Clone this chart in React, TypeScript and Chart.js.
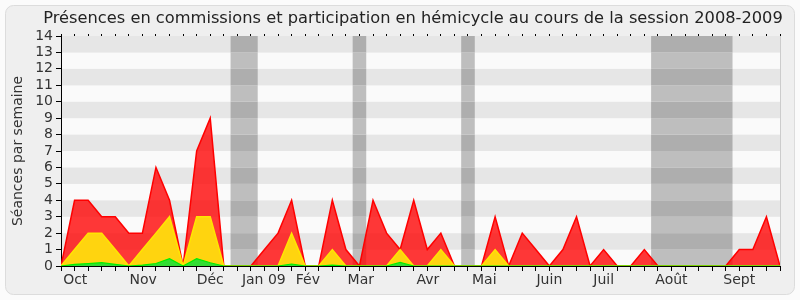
import { useEffect, useRef } from "react";
import { Chart, registerables } from "chart.js";

Chart.register(...registerables);

// Weekly index (semaine 0 = fin septembre 2008)
const weekIndex = Array.from({ length: 54 }, (_, i) => i);

// Séances par semaine (rouge) : présences totales
const seancesTotal = [
  0, 4, 4, 3, 3, 2, 2, 6, 4, 0, 7, 9, 0, 0, 0, 1, 2, 4, 0, 0, 4, 1, 0, 4, 2, 1, 4,
  1, 2, 0, 0, 0, 3, 0, 2, 1, 0, 1, 3, 0, 1, 0, 0, 1, 0, 0, 0, 0, 0, 0, 1, 1, 3, 0,
];
// Jaune : présences en commission
const seancesCommission = [
  0, 1, 2, 2, 1, 0, 1, 2, 3, 0, 3, 3, 0, 0, 0, 0, 0, 2, 0, 0, 1, 0, 0, 0, 0, 1, 0,
  0, 1, 0, 0, 0, 1, 0, 0, 0, 0, 0, 0, 0, 0, 0, 0, 0, 0, 0, 0, 0, 0, 0, 0, 0, 0, 0,
];
// Vert : interventions en hémicycle
const seancesHemicycle = [
  0, 0.1, 0.15, 0.2, 0.1, 0, 0.05, 0.15, 0.45, 0, 0.45, 0.2, 0, 0, 0, 0, 0, 0.12, 0, 0, 0.05, 0, 0, 0, 0, 0.22, 0,
  0, 0, 0, 0, 0, 0, 0, 0, 0, 0, 0, 0, 0, 0, 0, 0, 0, 0, 0, 0, 0, 0, 0, 0, 0, 0, 0,
];

// Vacances parlementaires (en semaines)
const vacancesDebut = [12.5, 21.5, 29.5, 43.5];
const vacancesFin = [14.5, 22.5, 30.5, 49.5];

// Mois
const moisLabels = ["Oct", "Nov", "Déc", "Jan 09", "Fév", "Mar", "Avr", "Mai", "Juin", "Juil", "Août", "Sept"];
const moisPositions = [1.05, 6.05, 11.0, 14.95, 18.2, 22.1, 27.05, 31.2, 36.0, 40.0, 45.0, 50.0];

const yTicks = Array.from({ length: 15 }, (_, i) => i);

const titre = "Présences en commissions et participation en hémicycle au cours de la session 2008-2009";
const FONT = '"DejaVu Sans", Verdana, sans-serif';

const decorPlugin = {
  id: "decor",
  beforeDraw(chart: any) {
    const ctx = chart.ctx;
    const { left, right, top, bottom } = chart.chartArea;
    const xs = chart.scales.x;
    const ys = chart.scales.y;
    ctx.save();
    ctx.fillStyle = "#fbfbfb";
    ctx.fillRect(0, 0, chart.width, chart.height);
    ctx.beginPath();
    ctx.roundRect(5.5, 5.5, chart.width - 11, chart.height - 11, 8);
    ctx.fillStyle = "#efefef";
    ctx.fill();
    ctx.strokeStyle = "#dcdcdc";
    ctx.lineWidth = 1;
    ctx.stroke();

    // title
    ctx.fillStyle = "#222";
    ctx.font = "16.25px " + FONT;
    ctx.textAlign = "center";
    ctx.textBaseline = "alphabetic";
    ctx.fillText(titre, 413, 23);

    // stripes
    for (let k = 0; k < 14; k++) {
      const y0 = ys.getPixelForValue(k);
      const y1 = ys.getPixelForValue(k + 1);
      ctx.fillStyle = k % 2 === 1 ? "#e6e6e6" : "#fafafa";
      ctx.fillRect(left, y1, right - left, y0 - y1);
    }
    // vacations
    for (let v = 0; v < vacancesDebut.length; v++) {
      const x0 = xs.getPixelForValue(vacancesDebut[v]);
      const x1 = xs.getPixelForValue(vacancesFin[v]);
      for (let k = 0; k < 14; k++) {
        const y0 = ys.getPixelForValue(k);
        const y1 = ys.getPixelForValue(k + 1);
        ctx.fillStyle = k % 2 === 1 ? "#aeaeae" : "#bebebe";
        ctx.fillRect(x0, y1, x1 - x0, y0 - y1);
      }
    }
    // right border
    ctx.strokeStyle = "#cccccc";
    ctx.beginPath();
    ctx.moveTo(Math.round(right) + 0.5, top);
    ctx.lineTo(Math.round(right) + 0.5, bottom);
    ctx.stroke();
    ctx.restore();
  },
};

export default function App() {
  const ref = useRef<HTMLCanvasElement | null>(null);
  useEffect(() => {
    document.body.style.margin = "0";
    const canvas = ref.current!;
    const mk = (arr: number[]) => arr.map((v, i) => ({ x: weekIndex[i], y: v }));
    const chart = new Chart(canvas, {
      type: "line",
      data: {
        datasets: [
          {
            label: "Interventions",
            data: mk(seancesHemicycle),
            borderColor: "#00ee00",
            backgroundColor: "#33dd33",
            borderWidth: 1.2,
            fill: "origin",
            pointRadius: 0,
            tension: 0,
          },
          {
            label: "Commission",
            data: mk(seancesCommission),
            borderColor: "#ffe600",
            backgroundColor: "#ffd40f",
            borderWidth: 1.5,
            fill: "origin",
            pointRadius: 0,
            tension: 0,
          },
          {
            label: "Total",
            data: mk(seancesTotal),
            borderColor: "#ff0000",
            backgroundColor: "rgba(255,0,0,0.78)",
            borderWidth: 1.5,
            fill: "origin",
            pointRadius: 0,
            tension: 0,
          },
        ],
      },
      options: {
        animation: false,
        responsive: false,
        maintainAspectRatio: false,
        layout: { padding: { top: 34, right: 20, bottom: 0, left: 0 } },
        plugins: {
          legend: { display: false },
          tooltip: { enabled: false },
          title: { display: false },
        },
        scales: {
          x: {
            type: "linear",
            position: "bottom",
            weight: 0,
            min: 0,
            max: 53,
            afterBuildTicks: (s: any) => {
              s.ticks = weekIndex.map((v) => ({ value: v }));
            },
            ticks: { display: false, autoSkip: false },
            grid: { drawOnChartArea: false, drawTicks: true, tickLength: 5, tickColor: "#000", tickWidth: 1 },
            border: { color: "#000", width: 1 },
            afterFit: (s: any) => {
              s.height = 5;
            },
          },
          xm: {
            type: "linear",
            position: "bottom",
            weight: 1,
            min: 0,
            max: 53,
            afterBuildTicks: (s: any) => {
              s.ticks = moisPositions.map((v) => ({ value: v }));
            },
            ticks: {
              autoSkip: false,
              maxRotation: 0,
              padding: 1,
              color: "#333",
              font: { family: FONT, size: 14 },
              callback: (_v: any, i: number) => moisLabels[i],
            },
            grid: { display: false, drawTicks: false },
            border: { display: false },
            afterFit: (s: any) => {
              s.height = 29;
            },
          },
          xt: {
            type: "linear",
            position: "top",
            min: 0,
            max: 53,
            afterBuildTicks: (s: any) => {
              s.ticks = weekIndex.map((v) => ({ value: v }));
            },
            ticks: { display: false, autoSkip: false },
            grid: { drawOnChartArea: false, drawTicks: true, tickLength: 2, tickColor: "#000" },
            border: { display: false },
            afterFit: (s: any) => {
              s.height = 2;
            },
          },
          y: {
            min: 0,
            max: 14,
            afterBuildTicks: (s: any) => {
              s.ticks = yTicks.map((v) => ({ value: v }));
            },
            ticks: {
              padding: 3,
              color: "#333",
              font: { family: FONT, size: 14 },
              autoSkip: false,
            },
            grid: { drawOnChartArea: false, drawTicks: true, tickLength: 5, tickColor: "#000" },
            border: { color: "#000", width: 1 },
            title: {
              display: true,
              text: "Séances par semaine",
              color: "#333",
              font: { family: FONT, size: 14 },
              padding: { top: 10, bottom: 0 },
            },
            afterFit: (s: any) => {
              s.width = 61;
            },
          },
        },
      },
      plugins: [decorPlugin],
    });
    return () => chart.destroy();
  }, []);
  return <canvas ref={ref} width={800} height={300} style={{ display: "block" }} />;
}
